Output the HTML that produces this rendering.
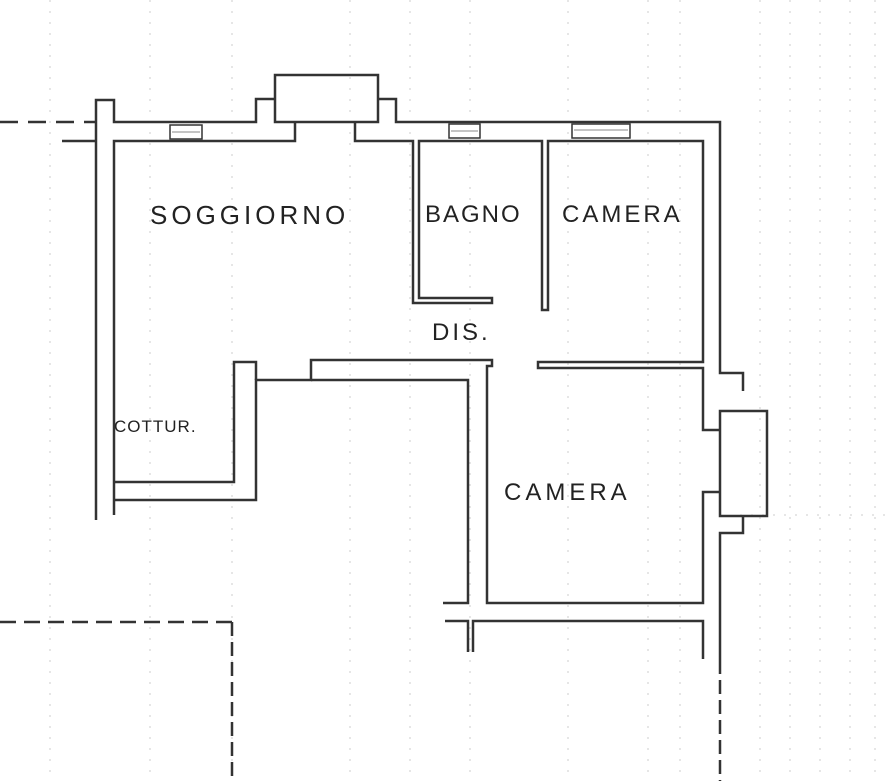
<!DOCTYPE html>
<html><head><meta charset="utf-8"><style>
html,body{margin:0;padding:0;background:#fff;}
svg{display:block;}
text{font-family:"Liberation Sans",sans-serif;fill:#222;}
</style></head><body>
<svg width="885" height="781" viewBox="0 0 885 781" xmlns="http://www.w3.org/2000/svg">
<g stroke="#ccc" stroke-width="1" stroke-dasharray="2,9" fill="none">
<line x1="232" y1="0" x2="232" y2="781"/><line x1="350" y1="0" x2="350" y2="781"/>
<line x1="410" y1="0" x2="410" y2="781"/><line x1="470" y1="0" x2="470" y2="781"/>
<line x1="568" y1="0" x2="568" y2="781"/><line x1="648" y1="0" x2="648" y2="781"/>
<line x1="680" y1="0" x2="680" y2="781"/><line x1="760" y1="0" x2="760" y2="781"/>
<line x1="790" y1="0" x2="790" y2="781"/><line x1="820" y1="0" x2="820" y2="781"/>
<line x1="850" y1="0" x2="850" y2="781"/><line x1="875" y1="0" x2="875" y2="781"/>
<line x1="50" y1="0" x2="50" y2="781"/><line x1="150" y1="0" x2="150" y2="781"/>
<line x1="740" y1="515" x2="885" y2="515"/>
</g>
<g stroke="#333" stroke-width="2.5" fill="none" stroke-linejoin="miter">
<line x1="0" y1="122" x2="96" y2="122" stroke-dasharray="18,10"/>
<polyline points="96,520 96,122 96,100 114,100 114,122 256,122 256,99 275,99"/>
<rect x="275" y="75" width="103" height="47"/>
<polyline points="378,99 396,99 396,122 720,122 720,373 743,373 743,391"/>
<rect x="720" y="411" width="47" height="105"/>
<polyline points="743,516 743,533 720,533 720,660"/>
<line x1="720" y1="660" x2="720" y2="781" stroke-dasharray="14,6"/>
<polyline points="62,141 96,141"/>
<polyline points="114,515 114,141 295,141 295,122"/>
<polyline points="355,122 355,141 413,141 413,303 492,303 492,298 419,298 419,141 542,141 542,310 548,310 548,141 703,141 703,362 538,362 538,368 703,368 703,430 720,430"/>
<polyline points="720,492 703,492 703,603 487,603 487,366 492,366 492,360 311,360 311,380 256,380 256,500 114,500"/>
<polyline points="114,482 234,482 234,362 256,362 256,380"/>
<polyline points="443,603 468,603 468,380 311,380"/>
<polyline points="445,621 468,621 468,652"/>
<polyline points="473,652 473,621 703,621 703,659"/>
<line x1="0" y1="622" x2="232" y2="622" stroke-dasharray="16,8"/>
<line x1="232" y1="622" x2="232" y2="781" stroke-dasharray="14,6"/>
</g>
<g stroke="#333" stroke-width="1.5" fill="#fff">
<rect x="170" y="125" width="32" height="14"/><rect x="449" y="124" width="31" height="14"/><rect x="572" y="124" width="58" height="14"/>
</g>
<g stroke="#888" stroke-width="1"><line x1="172" y1="132" x2="200" y2="132"/><line x1="451" y1="131" x2="478" y2="131"/><line x1="574" y1="130" x2="628" y2="130"/></g>
<text x="150" y="224" font-size="26" letter-spacing="4">SOGGIORNO</text>
<text x="425" y="222" font-size="24" letter-spacing="2">BAGNO</text>
<text x="562" y="222" font-size="24" letter-spacing="3">CAMERA</text>
<text x="432" y="340" font-size="24" letter-spacing="3">DIS.</text>
<text x="114" y="432" font-size="17" letter-spacing="1">COTTUR.</text>
<text x="504" y="500" font-size="24" letter-spacing="4">CAMERA</text>
</svg>
</body></html>
